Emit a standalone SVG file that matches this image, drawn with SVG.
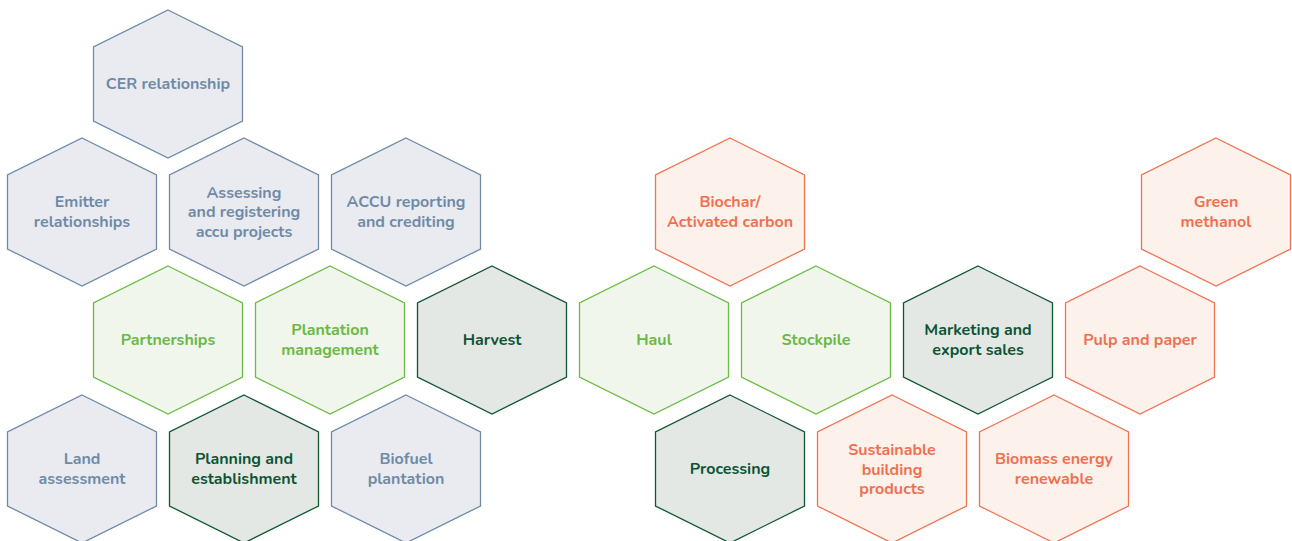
<svg xmlns="http://www.w3.org/2000/svg" xmlns:xlink="http://www.w3.org/1999/xlink" width="1292" height="541" viewBox="0 0 1292 541">
<style>
.hex{stroke-width:1.3}
.slate .hex{fill:#e9ebf1;stroke:#6e8aa6}
.slate text{fill:#6f8aa6}
.lg .hex{fill:#f0f6ec;stroke:#6bbd45}
.lg text{fill:#6ab944}
.dg .hex{fill:#e3e8e4;stroke:#0f5632}
.dg text{fill:#0e5434}
.or .hex{fill:#fdf1ec;stroke:#f07352}
.or text{fill:#ef7050}
text{font-family:"Nunito","Lato","Open Sans",sans-serif;font-weight:700;font-size:16px;text-anchor:middle;dominant-baseline:central}
</style>
<defs>
<polygon id="h" points="0,-74 74.5,-37 74.5,37 0,74 -74.5,37 -74.5,-37"/>
</defs>
<rect width="1292" height="541" fill="#ffffff"/>
<g id="connectors"></g>
<g id="cer" class="slate"><use href="#h" class="hex" x="168" y="84"/><text x="168" y="84">CER relationship</text></g>
<g id="emitter" class="slate"><use href="#h" class="hex" x="82" y="212"/><text x="82" y="202">Emitter</text><text x="82" y="221.5">relationships</text></g>
<g id="assessing" class="slate"><use href="#h" class="hex" x="244" y="212"/><text x="244" y="192.5">Assessing</text><text x="244" y="212">and registering</text><text x="244" y="231.5">accu projects</text></g>
<g id="accu" class="slate"><use href="#h" class="hex" x="406" y="212"/><text x="406" y="202">ACCU reporting</text><text x="406" y="221.5">and crediting</text></g>
<g id="biochar" class="or"><use href="#h" class="hex" x="730" y="212"/><text x="730" y="202">Biochar/</text><text x="730" y="221.5">Activated carbon</text></g>
<g id="green" class="or"><use href="#h" class="hex" x="1216" y="212"/><text x="1216" y="202">Green</text><text x="1216" y="221.5">methanol</text></g>
<g id="partnerships" class="lg"><use href="#h" class="hex" x="168" y="340"/><text x="168" y="340">Partnerships</text></g>
<g id="plantation" class="lg"><use href="#h" class="hex" x="330" y="340"/><text x="330" y="330">Plantation</text><text x="330" y="349.5">management</text></g>
<g id="harvest" class="dg"><use href="#h" class="hex" x="492" y="340"/><text x="492" y="340">Harvest</text></g>
<g id="haul" class="lg"><use href="#h" class="hex" x="654" y="340"/><text x="654" y="340">Haul</text></g>
<g id="stockpile" class="lg"><use href="#h" class="hex" x="816" y="340"/><text x="816" y="340">Stockpile</text></g>
<g id="marketing" class="dg"><use href="#h" class="hex" x="978" y="340"/><text x="978" y="330">Marketing and</text><text x="978" y="349.5">export sales</text></g>
<g id="pulp" class="or"><use href="#h" class="hex" x="1140" y="340"/><text x="1140" y="340">Pulp and paper</text></g>
<g id="land" class="slate"><use href="#h" class="hex" x="82" y="469"/><text x="82" y="459">Land</text><text x="82" y="478.5">assessment</text></g>
<g id="planning" class="dg"><use href="#h" class="hex" x="244" y="469"/><text x="244" y="459">Planning and</text><text x="244" y="478.5">establishment</text></g>
<g id="biofuel" class="slate"><use href="#h" class="hex" x="406" y="469"/><text x="406" y="459">Biofuel</text><text x="406" y="478.5">plantation</text></g>
<g id="processing" class="dg"><use href="#h" class="hex" x="730" y="469"/><text x="730" y="469">Processing</text></g>
<g id="sustainable" class="or"><use href="#h" class="hex" x="892" y="469"/><text x="892" y="450">Sustainable</text><text x="892" y="469.5">building</text><text x="892" y="489">products</text></g>
<g id="biomass" class="or"><use href="#h" class="hex" x="1054" y="469"/><text x="1054" y="459">Biomass energy</text><text x="1054" y="478.5">renewable</text></g>
</svg>
